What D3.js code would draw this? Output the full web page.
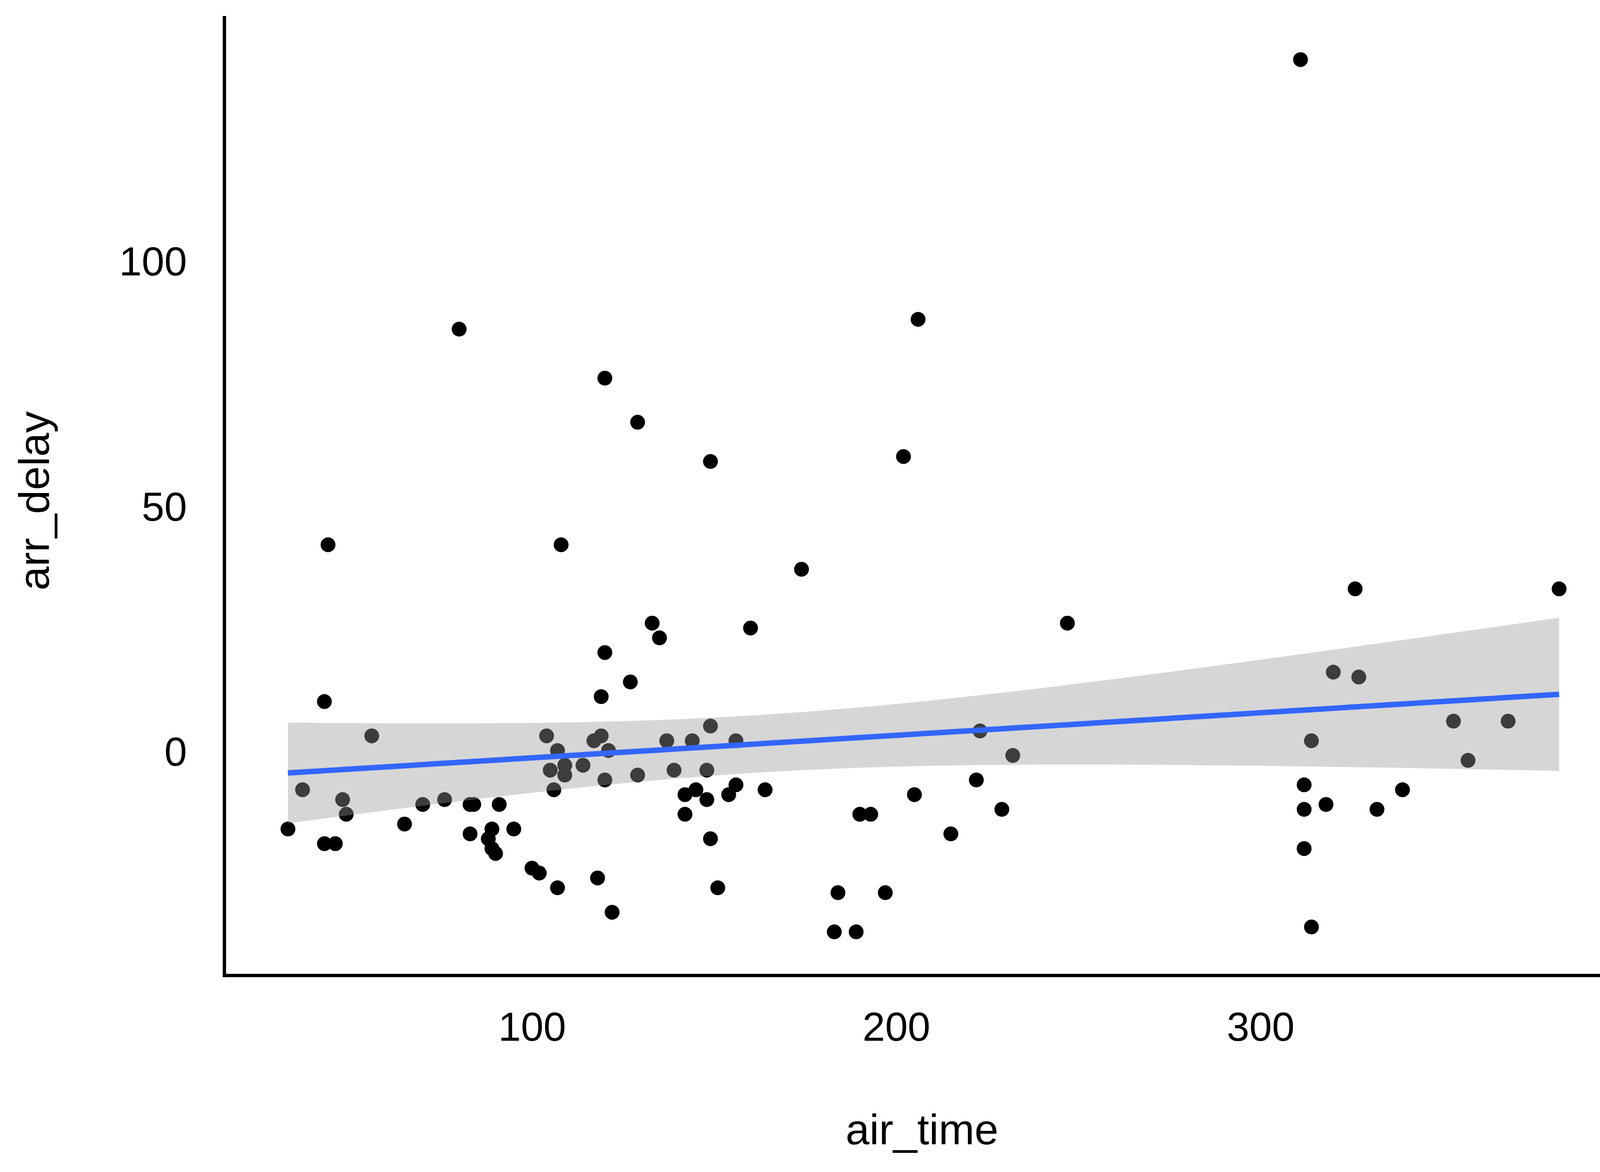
<!DOCTYPE html>
<html>
<head>
<meta charset="utf-8">
<script src="https://cdn.jsdelivr.net/npm/d3@7/dist/d3.min.js"></script>
<style>
  html, body { margin: 0; padding: 0; background: #ffffff; }
  svg { display: block; }
</style>
</head>
<body>
<script>
// ---- data ----
const airTime = [33,37,43,44,43,46,48,49,56,65,70,76,80,83,84,83,88,89,89,90,91,95,100,102,104,105,106,107,107,108,109,109,114,117,118,119,119,120,120,120,121,122,127,129,129,133,135,137,139,142,142,144,145,148,148,149,149,149,151,154,156,156,160,164,174,183,184,189,190,193,197,202,205,206,215,222,223,229,232,247,311,312,312,312,314,314,318,320,326,327,332,339,353,357,368,382];
const arrDelay = [-16,-8,10,42,-19,-19,-10,-13,3,-15,-11,-10,86,-11,-11,-17,-18,-16,-20,-21,-11,-16,-24,-25,3,-4,-8,0,-28,42,-3,-5,-3,2,-26,3,11,76,20,-6,0,-33,14,67,-5,26,23,2,-4,-9,-13,2,-8,-4,-10,59,5,-18,-28,-9,2,-7,25,-8,37,-37,-29,-37,-13,-13,-29,60,-9,88,-17,-6,4,-12,-1,26,141,-7,-12,-20,2,-36,-11,16,33,15,-12,-8,6,-2,6,33];
const xTicks = [100, 200, 300];
const yTicks = [0, 50, 100];
const xTitle = "air_time";
const yTitle = "arr_delay";

// ---- layout ----
const W = 4200, H = 3000;
const panel = { left: 574.5, right: 4154, top: 41, bottom: 2497 };

const svg = d3.select("body").append("svg")
  .attr("width", W).attr("height", H)
  .attr("viewBox", `0 0 ${W} ${H}`);
svg.append("rect").attr("width", W).attr("height", H).attr("fill", "#ffffff");

const pts = airTime.map((x, i) => ({ x, y: arrDelay[i] }));

function expand(ext, f) { const r = ext[1] - ext[0]; return [ext[0] - f * r, ext[1] + f * r]; }
const xExt = d3.extent(airTime), yExt = d3.extent(arrDelay);
const x = d3.scaleLinear().domain(expand(xExt, 0.05)).range([panel.left, panel.right]);
const y = d3.scaleLinear().domain(expand(yExt, 0.05)).range([panel.bottom, panel.top]);

// ---- linear fit with 95% confidence band ----
const n = pts.length;
const mx = d3.mean(airTime), my = d3.mean(arrDelay);
let sxx = 0, sxy = 0;
pts.forEach(p => { sxx += (p.x - mx) ** 2; sxy += (p.x - mx) * (p.y - my); });
const b1 = sxy / sxx, b0 = my - b1 * mx;
let sse = 0;
pts.forEach(p => { sse += (p.y - (b0 + b1 * p.x)) ** 2; });
const s = Math.sqrt(sse / (n - 2));
const tq = 1.9855; // t(0.975, df = 94)
const fit = d3.range(80).map(i => {
  const xv = xExt[0] + (xExt[1] - xExt[0]) * i / 79;
  const yh = b0 + b1 * xv;
  const se = s * Math.sqrt(1 / n + (xv - mx) ** 2 / sxx);
  return { x: xv, y: yh, lo: yh - tq * se, hi: yh + tq * se };
});

// ---- points ----
svg.append("g").selectAll("circle").data(pts).join("circle")
  .attr("cx", d => x(d.x)).attr("cy", d => y(d.y)).attr("r", 19)
  .attr("fill", "#000000");

// ---- ribbon + line ----
svg.append("path").datum(fit)
  .attr("d", d3.area().x(d => x(d.x)).y0(d => y(d.lo)).y1(d => y(d.hi)))
  .attr("fill", "#999999").attr("fill-opacity", 0.4);
svg.append("path").datum(fit)
  .attr("d", d3.line().x(d => x(d.x)).y(d => y(d.y)))
  .attr("fill", "none").attr("stroke", "#3366FF").attr("stroke-width", 14);

// ---- axes ----
const font = "'Liberation Sans', Arial, Helvetica, sans-serif";
const xAxis = d3.axisBottom(x).tickValues(xTicks).tickSize(0).tickPadding(0).tickFormat(d3.format("d"));
const gx = svg.append("g").attr("transform", `translate(0,${panel.bottom})`).call(xAxis);
gx.select(".domain").remove();
gx.selectAll("text").attr("font-family", font).attr("font-size", 104).attr("fill", "#000")
  .attr("dy", null).attr("y", 167);

const yAxis = d3.axisLeft(y).tickValues(yTicks).tickSize(0).tickPadding(0).tickFormat(d3.format("d"));
const gy = svg.append("g").attr("transform", `translate(${panel.left},0)`).call(yAxis);
gy.select(".domain").remove();
gy.selectAll("text").attr("font-family", font).attr("font-size", 104).attr("fill", "#000")
  .attr("x", -96).attr("dy", 38).attr("text-anchor", "end");

// axis lines
svg.append("line").attr("x1", panel.left).attr("x2", panel.left)
  .attr("y1", panel.top).attr("y2", panel.bottom + 4.25)
  .attr("stroke", "#000").attr("stroke-width", 8.5);
svg.append("line").attr("x1", panel.left - 4.25).attr("x2", panel.right)
  .attr("y1", panel.bottom).attr("y2", panel.bottom)
  .attr("stroke", "#000").attr("stroke-width", 8.5);

// titles
svg.append("text").attr("x", (panel.left + panel.right) / 2 - 4).attr("y", 2929)
  .attr("text-anchor", "middle").attr("font-family", font).attr("font-size", 110)
  .attr("fill", "#000").text(xTitle);
svg.append("text").attr("transform", `translate(125,1282) rotate(-90)`)
  .attr("text-anchor", "middle").attr("font-family", font).attr("font-size", 110)
  .attr("fill", "#000").text(yTitle);
</script>
</body>
</html>
